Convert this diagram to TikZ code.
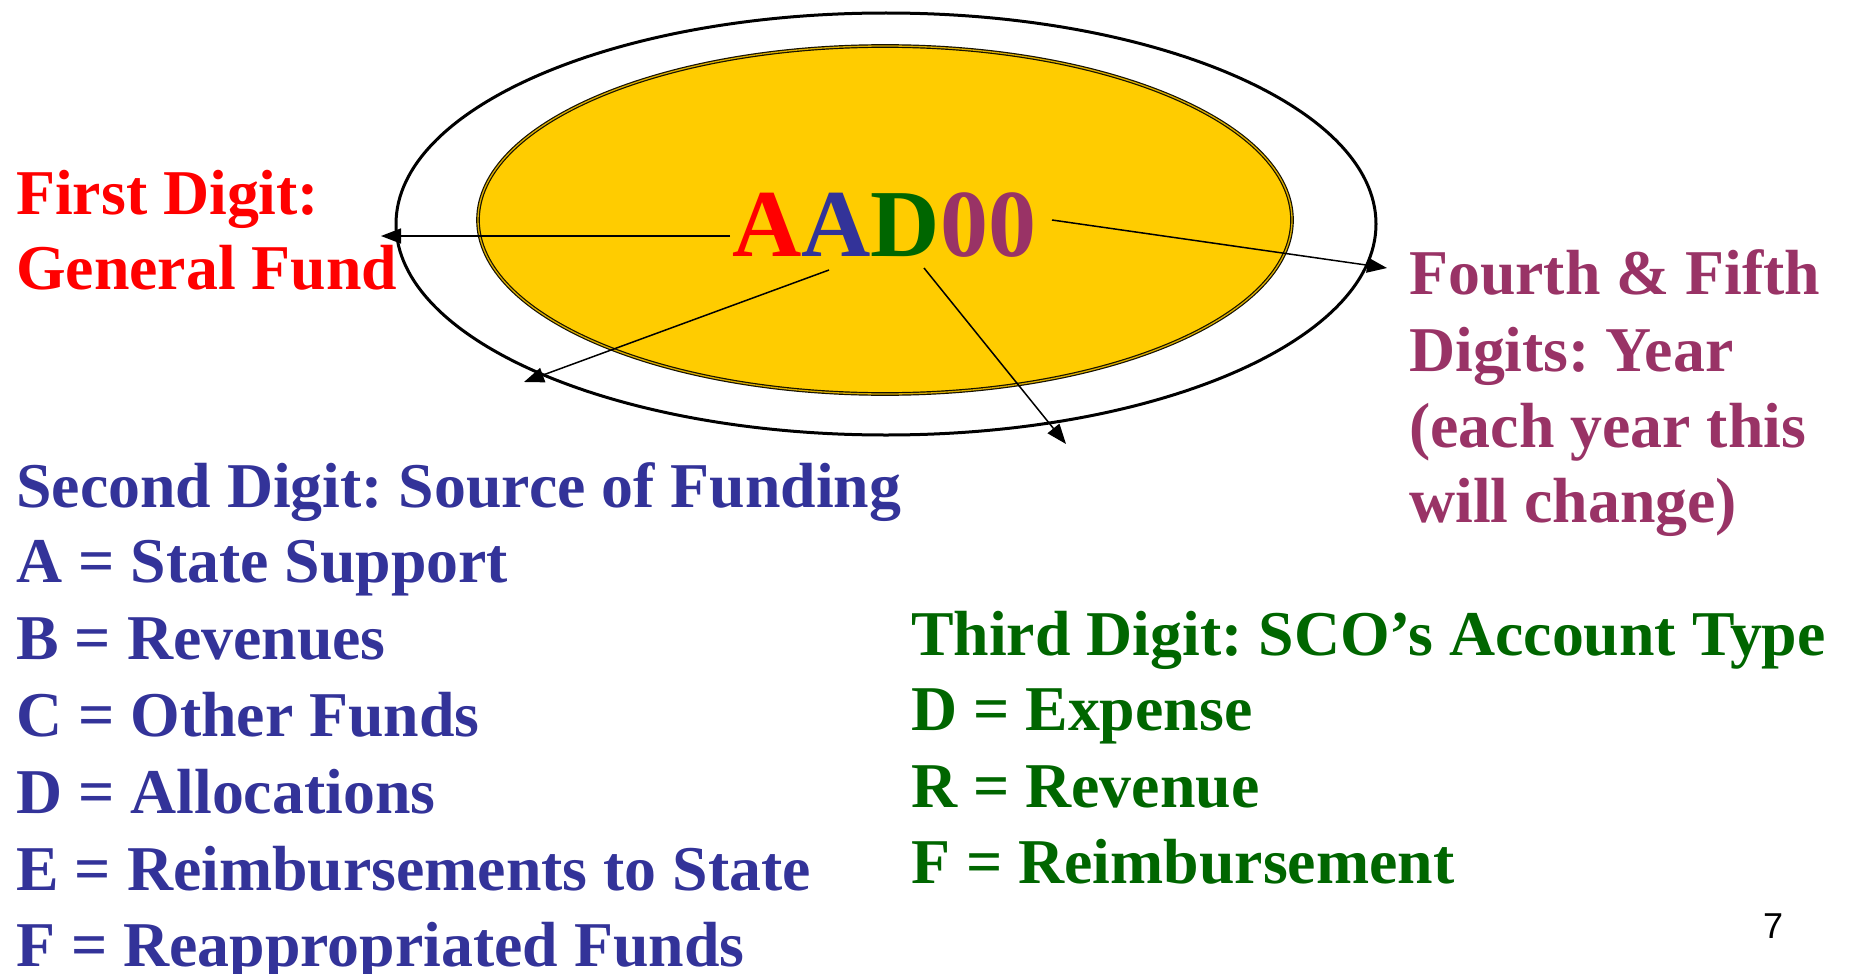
\documentclass[tikz,border=0pt]{standalone}
\usepackage{fontspec}
\setmainfont{Liberation Serif}
\newfontfamily\pgnumfont{Liberation Sans}
\usetikzlibrary{arrows.meta}
\frenchspacing
\definecolor{cred}{RGB}{255,0,0}
\definecolor{cblue}{RGB}{51,51,153}
\definecolor{cgreen}{RGB}{0,102,0}
\definecolor{cpurple}{RGB}{153,51,102}
\definecolor{cyellow}{RGB}{255,204,0}
\definecolor{cring}{RGB}{20,15,0}
\tikzset{
  lbl/.style={anchor=base west, inner sep=0pt, font=\bfseries\fontsize{63.8}{74}\selectfont},
  ptr/.style={line width=1.5pt, -{Triangle[length=20pt,width=15pt]}},
}
\begin{document}
\begin{tikzpicture}[x=1pt,y=-1pt]
\useasboundingbox (0,0) rectangle (1856,974);
% ellipses
\draw[line width=3pt] (886,224) ellipse [x radius=490, y radius=211];
\draw[fill=cyellow, draw=cring, line width=1.2pt, double=cyellow!85!black, double distance=1.3pt] (885,220) ellipse [x radius=407, y radius=174];
\fill[cyellow] (885,220) ellipse [x radius=404, y radius=171];
% code
\node[anchor=base west, inner sep=0pt, font=\bfseries\fontsize{96}{96}\selectfont] (code) at (732,256)
  {\color{cred}A\color{cblue}A\color{cgreen}D\color{cpurple}00};
% arrow coordinates
\coordinate (s1) at (730,236);  \coordinate (e1) at (381,236);
\coordinate (s2) at (829,270);  \coordinate (e2) at (524,382);
\coordinate (s3) at (924,268);  \coordinate (e3) at (1066,444);
\coordinate (s4) at (1052,220); \coordinate (e4) at (1387,268);
\draw[ptr] (s1) -- (e1);
\draw[ptr] (s2) -- (e2);
\draw[ptr] (s3) -- (e3);
\draw[ptr] (s4) -- (e4);
% red
\node[lbl, text=cred] (r1) at (16,214) {First Digit:};
\node[lbl, text=cred] (r2) at (16,289) {General Fund};
% purple
\node[lbl, text=cpurple] (p1) at (1409,294) {Fourth \& Fifth};
\node[lbl, text=cpurple] (p2) at (1409,371) {Digits: Year};
\node[lbl, text=cpurple] (p3) at (1409,447) {(each year this};
\node[lbl, text=cpurple] (p4) at (1409,522) {will change)};
% blue
\node[lbl, text=cblue] (b0) at (16,507) {Second Digit: Source of Funding};
\node[lbl, text=cblue] (b1) at (16,582) {A = State Support};
\node[lbl, text=cblue] (b2) at (16,659) {B = Revenues};
\node[lbl, text=cblue] (b3) at (16,736) {C = Other Funds};
\node[lbl, text=cblue] (b4) at (16,813) {D = Allocations};
\node[lbl, text=cblue] (b5) at (16,890) {E = Reimbursements to State};
\node[lbl, text=cblue] (b6) at (16,966) {F = Reappropriated Funds};
% green
\node[lbl, text=cgreen] (g0) at (911,655) {Third Digit: SCO’s Account Type};
\node[lbl, text=cgreen] (g1) at (911,730) {D = Expense};
\node[lbl, text=cgreen] (g2) at (911,807) {R = Revenue};
\node[lbl, text=cgreen] (g3) at (911,883) {F = Reimbursement};
% page number
\node[inner sep=0pt, font=\pgnumfont\fontsize{36}{36}\selectfont] (pg) at (1773,926) {7};
\end{tikzpicture}
\end{document}
